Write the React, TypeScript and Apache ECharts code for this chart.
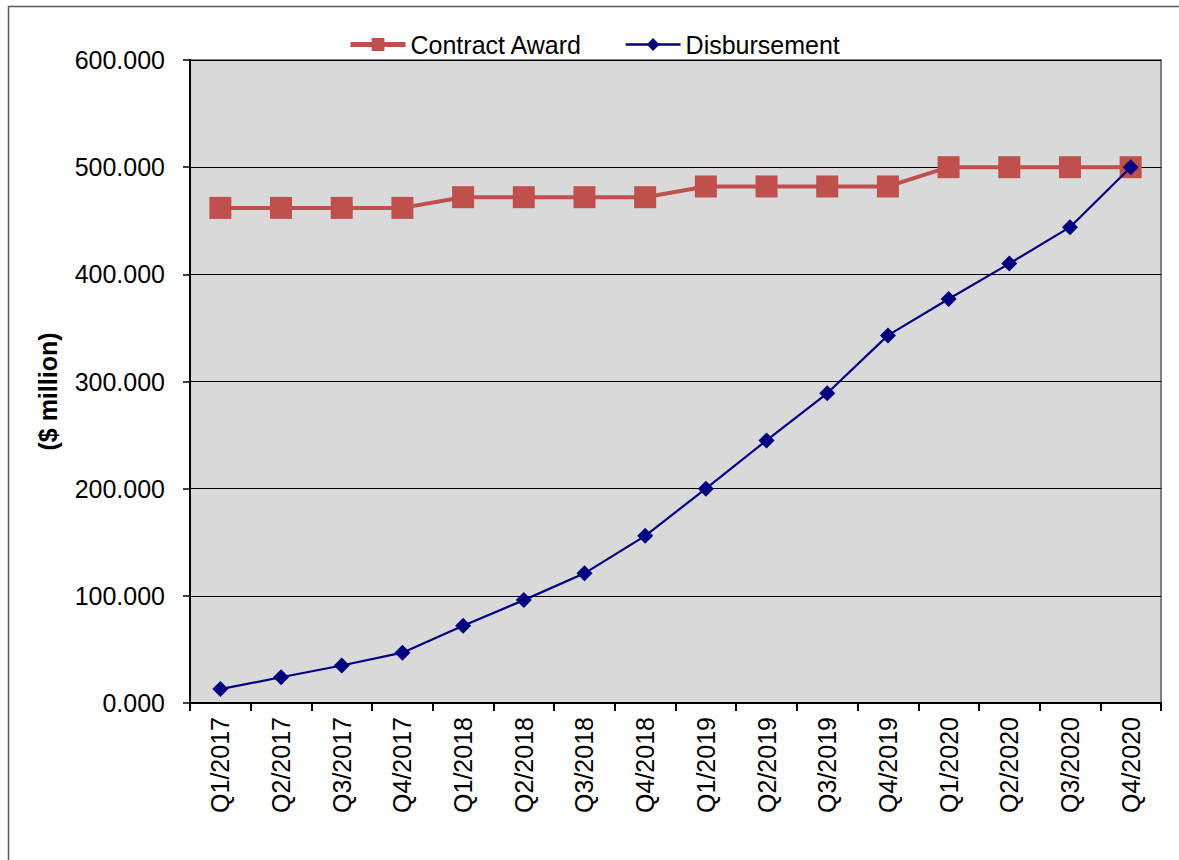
import React, { useEffect, useRef } from "react";
import * as echarts from "echarts";

const categories = [
  "Q1/2017", "Q2/2017", "Q3/2017", "Q4/2017",
  "Q1/2018", "Q2/2018", "Q3/2018", "Q4/2018",
  "Q1/2019", "Q2/2019", "Q3/2019", "Q4/2019",
  "Q1/2020", "Q2/2020", "Q3/2020", "Q4/2020",
];
const contractAward = [462, 462, 462, 462, 472, 472, 472, 472, 482, 482, 482, 482, 500, 500, 500, 500];
const disbursement = [13, 24, 35, 47, 72, 96, 121, 156, 200, 245, 289, 343, 377, 410, 444, 500];
const yTicks = { min: 0, max: 600, interval: 100 };

const FONT = "'Liberation Sans', Arial, sans-serif";

export default function App() {
  const ref = useRef<HTMLDivElement>(null);
  useEffect(() => {
    if (!ref.current) return;
    const chart = echarts.init(ref.current, null, { renderer: "svg" });
    chart.setOption({
      animation: false,
      backgroundColor: "#ffffff",
      textStyle: { fontFamily: FONT },
      graphic: [
        {
          type: "rect",
          shape: { x: 8.5, y: 6.5, width: 1190, height: 880 },
          style: { fill: "none", stroke: "#595959", lineWidth: 1.5 },
          silent: true,
        },
      ],
      legend: {
        top: 32,
        left: 348,
        padding: 0,
        itemWidth: 55,
        itemHeight: 16,
        itemGap: 42,
        textStyle: { fontSize: 25, color: "#000", fontFamily: FONT },
        data: [
          { name: "Contract Award", lineStyle: { width: 5 } },
          { name: "Disbursement", lineStyle: { width: 2.5 } },
        ],
      },
      grid: {
        left: 190,
        right: 18,
        top: 60,
        bottom: 157,
        show: true,
        backgroundColor: "#d9d9d9",
        borderColor: "#808080",
        borderWidth: 2,
      },
      xAxis: {
        type: "category",
        data: categories,
        boundaryGap: true,
        axisLine: { lineStyle: { color: "#000", width: 2 } },
        axisTick: { show: true, alignWithLabel: false, length: 8, lineStyle: { color: "#000", width: 2 } },
        axisLabel: {
          rotate: 90,
          interval: 0,
          fontSize: 25,
          color: "#000",
          fontFamily: FONT,
          margin: 14,
        },
        splitLine: { show: false },
      },
      yAxis: {
        type: "value",
        min: yTicks.min,
        max: yTicks.max,
        interval: yTicks.interval,
        name: "($ million)",
        nameLocation: "middle",
        nameGap: 130,
        nameRotate: 90,
        nameTextStyle: {
          fontSize: 25,
          fontWeight: "bold",
          color: "#000",
          fontFamily: FONT,
          padding: [0, 20, 0, 0],
        },
        axisLine: { show: true, lineStyle: { color: "#000", width: 2 } },
        axisTick: { show: true, length: 7, lineStyle: { color: "#000", width: 1.5 } },
        axisLabel: {
          fontSize: 25,
          color: "#000",
          fontFamily: FONT,
          margin: 25,
          formatter: (v: number) => v.toFixed(3),
        },
        splitLine: { show: true, lineStyle: { color: "#000", width: 1 } },
      },
      series: [
        {
          name: "Contract Award",
          type: "line",
          data: contractAward,
          symbol: "rect",
          symbolSize: 22,
          itemStyle: { color: "#c0504d" },
          lineStyle: { color: "#c0504d", width: 4 },
          z: 2,
        },
        {
          name: "Disbursement",
          type: "line",
          data: disbursement,
          symbol: "diamond",
          symbolSize: 16,
          itemStyle: { color: "#000080" },
          lineStyle: { color: "#000080", width: 2.2 },
          z: 3,
        },
      ],
    });
    return () => chart.dispose();
  }, []);
  return (
    <div
      ref={ref}
      style={{ position: "absolute", left: 0, top: 0, width: 1179, height: 860 }}
    />
  );
}
